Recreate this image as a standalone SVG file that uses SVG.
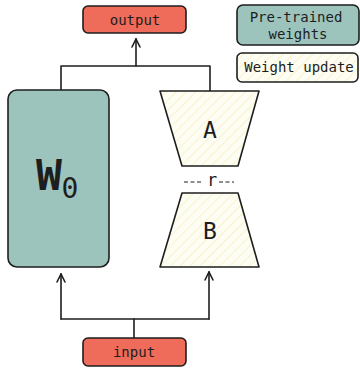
<svg xmlns="http://www.w3.org/2000/svg" width="360" height="370" viewBox="0 0 360 370">
<style>
.t{font-family:"DejaVu Sans Mono","Liberation Mono",monospace;fill:#1e1e1e;text-anchor:middle}
.s{stroke:#1e1e1e;stroke-width:1.6;fill:none;stroke-linecap:round;stroke-linejoin:round}
.red{fill:#ef6b5a;stroke:#1e1e1e;stroke-width:1.6}
.teal{fill:#9cc4bd;stroke:#1e1e1e;stroke-width:1.6}
.hat{fill:url(#h);stroke:#1e1e1e;stroke-width:1.6;stroke-linejoin:round}
</style>
<defs>
<pattern id="h" patternUnits="userSpaceOnUse" width="7" height="7" patternTransform="rotate(45)">
<rect width="7" height="7" fill="#fdfdf3"/>
<line x1="0" y1="0" x2="0" y2="7" stroke="#f2ecaa" stroke-width="1.1"/>
</pattern>
<marker id="ar" viewBox="0 0 10 10" refX="9" refY="5" markerWidth="10" markerHeight="10" markerUnits="userSpaceOnUse" orient="auto">
<path d="M1,1 L9,5 L1,9" fill="none" stroke="#1e1e1e" stroke-width="1.6" stroke-linecap="round"/>
</marker>
</defs>
<g id="connectors">
<path class="s" d="M61,91 V66 H210 V91"/>
<path class="s" d="M136,66 V39" marker-end="url(#ar)"/>
<path class="s" d="M61,319 H209"/>
<path class="s" d="M61,319 V274" marker-end="url(#ar)"/>
<path class="s" d="M209,319 V272" marker-end="url(#ar)"/>
<path class="s" d="M134,319 V338"/>
</g>
<g id="output">
<rect class="red" x="83" y="6" width="103" height="27" rx="5"/>
<text class="t" x="135" y="25" font-size="14">output</text>
</g>
<g id="legend-pretrained">
<rect class="teal" x="237" y="5" width="122" height="40" rx="6"/>
<text class="t" x="296" y="22" font-size="14">Pre-trained</text>
<text class="t" x="298" y="39" font-size="14">weights</text>
</g>
<g id="legend-update">
<rect class="hat" x="237" y="53" width="121" height="29" rx="5"/>
<text class="t" x="299" y="72" font-size="14">Weight update</text>
</g>
<g id="W0">
<rect class="teal" x="8" y="90" width="101" height="177" rx="9"/>
<text class="t" x="49" y="190" font-size="43" font-weight="bold">W</text>
<text class="t" x="70" y="198" font-size="28">0</text>
</g>
<g id="A">
<path class="hat" d="M160,91 H259 L238,166 H182 Z"/>
<text class="t" x="210" y="138" font-size="23">A</text>
</g>
<g id="r">
<text class="t" x="212" y="186" font-size="17">r</text>
<path d="M184,182 H201 M219,182 H234" stroke="#1e1e1e" stroke-width="1" stroke-dasharray="4,2.5"/>
</g>
<g id="B">
<path class="hat" d="M182,193 H238 L259,267 H160 Z"/>
<text class="t" x="210" y="239" font-size="23">B</text>
</g>
<g id="input">
<rect class="red" x="83" y="338" width="103" height="28" rx="5"/>
<text class="t" x="134" y="357" font-size="14">input</text>
</g>
</svg>
